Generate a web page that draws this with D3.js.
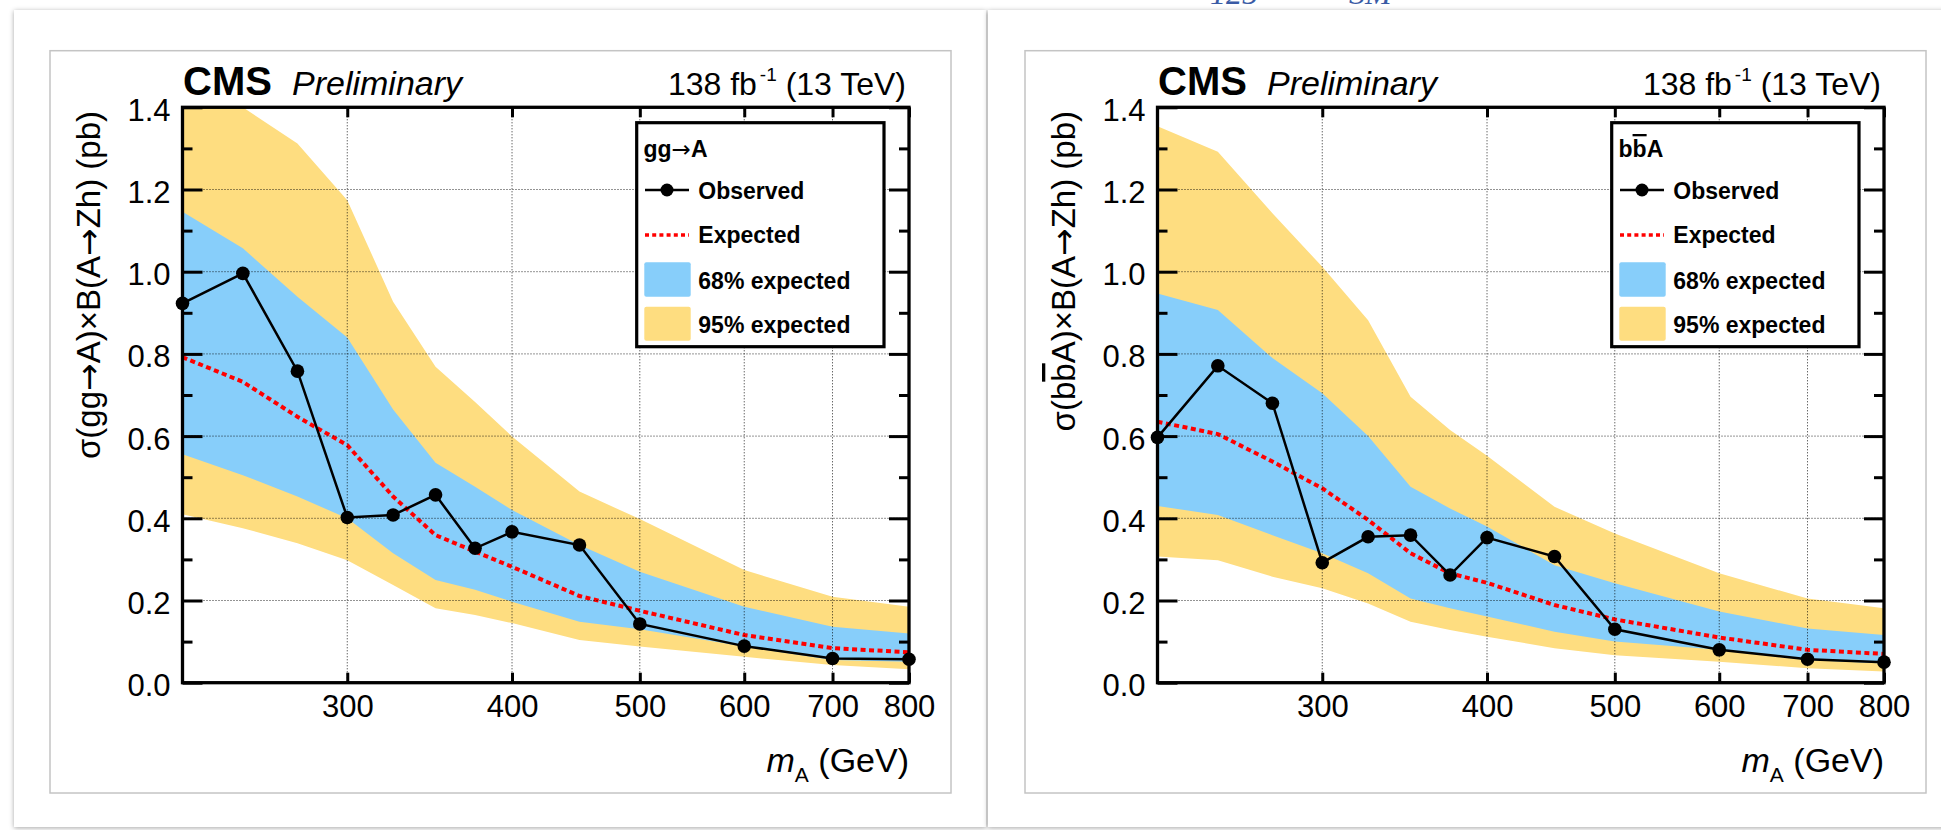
<!DOCTYPE html>
<html>
<head>
<meta charset="utf-8">
<script src="https://cdn.jsdelivr.net/npm/d3@7"></script>
<style>
  html, body { margin: 0; padding: 0; background: #fff; overflow: hidden; }
  svg { display: block; }
  text { font-family: "Liberation Sans", Arial, Helvetica, sans-serif; fill: #000; }
</style>
</head>
<body>
<svg id="chart" width="1941" height="830"></svg>
<script>
// ---- data: upper limits at 95% CL on sigma x B(A->Zh), in pb ----
const massPoints = [225, 250, 275, 300, 325, 350, 375, 400, 450, 500, 600, 700, 800];

// gluon-fusion production
const ggObserved = [0.923, 0.996, 0.758, 0.402, 0.408, 0.457, 0.327, 0.367, 0.335, 0.143, 0.089, 0.059, 0.057];
const ggExpected = [0.792, 0.732, 0.647, 0.578, 0.453, 0.359, 0.319, 0.282, 0.211, 0.175, 0.116, 0.084, 0.074];
const ggBand68Lo = [0.556, 0.505, 0.453, 0.400, 0.315, 0.250, 0.226, 0.197, 0.148, 0.130, 0.088, 0.055, 0.051];
const ggBand68Hi = [1.146, 1.057, 0.939, 0.840, 0.665, 0.535, 0.477, 0.420, 0.335, 0.270, 0.185, 0.136, 0.120];
const ggBand95Lo = [0.410, 0.376, 0.339, 0.298, 0.238, 0.181, 0.165, 0.145, 0.104, 0.088, 0.063, 0.043, 0.033];
const ggBand95Hi = [1.497, 1.400, 1.312, 1.174, 0.927, 0.769, 0.683, 0.599, 0.465, 0.398, 0.274, 0.209, 0.185];

// b-quark associated production
const bbObserved = [0.597, 0.771, 0.680, 0.292, 0.355, 0.359, 0.262, 0.353, 0.307, 0.130, 0.080, 0.057, 0.050];
const bbExpected = [0.635, 0.605, 0.538, 0.473, 0.396, 0.315, 0.266, 0.243, 0.189, 0.154, 0.110, 0.080, 0.070];
const bbBand68Lo = [0.430, 0.408, 0.359, 0.315, 0.266, 0.205, 0.181, 0.161, 0.124, 0.100, 0.080, 0.055, 0.047];
const bbBand68Hi = [0.947, 0.907, 0.790, 0.704, 0.600, 0.477, 0.424, 0.380, 0.286, 0.242, 0.173, 0.132, 0.116];
const bbBand95Lo = [0.307, 0.298, 0.258, 0.230, 0.193, 0.148, 0.128, 0.112, 0.084, 0.067, 0.051, 0.035, 0.027];
const bbBand95Hi = [1.354, 1.292, 1.142, 1.012, 0.882, 0.696, 0.615, 0.552, 0.428, 0.363, 0.266, 0.205, 0.181];

// axes
const xDomain = [225, 800];
const yDomain = [0, 1.4];
const xTickValues = [300, 400, 500, 600, 700, 800];
const xGridValues = [300, 400, 500, 600, 700];
const yTickValues = [0.0, 0.2, 0.4, 0.6, 0.8, 1.0, 1.2, 1.4];
const yMinorTickValues = [0.1, 0.3, 0.5, 0.7, 0.9, 1.1, 1.3];
const yGridValues = [0.2, 0.4, 0.6, 0.8, 1.0, 1.2];

const legendLabels = ["Observed", "Expected", "68% expected", "95% expected"];

// ---- drawing ----
const COLOR_68 = "#87cefa";
const COLOR_95 = "#fedd80";
const ARROW_FONT = "'DejaVu Sans', sans-serif";
const svg = d3.select("#chart");
const defs = svg.append("defs");

const shadow = defs.append("filter").attr("id", "cardShadow")
  .attr("x", "-5%").attr("y", "-5%").attr("width", "110%").attr("height", "110%");
shadow.append("feDropShadow").attr("dx", 0).attr("dy", 1).attr("stdDeviation", 2.5)
  .attr("flood-color", "#000").attr("flood-opacity", 0.35);

// slide cards behind the two plots
svg.append("rect").attr("x", 14).attr("y", 10).attr("width", 972).attr("height", 817)
  .attr("fill", "#fff").attr("filter", "url(#cardShadow)");
svg.append("rect").attr("x", 988).attr("y", 10).attr("width", 980).attr("height", 817)
  .attr("fill", "#fff").attr("filter", "url(#cardShadow)");

// fragment of the slide heading above the cards
svg.append("text").attr("x", 1210).attr("y", 4).attr("font-size", 32)
  .style("font-family", "'Liberation Serif', 'DejaVu Serif', serif").style("font-style", "italic")
  .style("fill", "#3a5ba5").text("125");
svg.append("text").attr("x", 1349).attr("y", 4).attr("font-size", 32)
  .style("font-family", "'Liberation Serif', 'DejaVu Serif', serif").style("font-style", "italic")
  .style("fill", "#3a5ba5").text("SM");

// text made of pieces: plain, overlined (b-bar) or arrow glyph
function addSegments(sel, segs) {
  segs.forEach(s => {
    const t = sel.append("tspan").text(s.t);
    if (s.over) t.style("text-decoration", "overline");
    if (s.arrow) t.style("font-family", ARROW_FONT).style("font-weight", "normal");
  });
}

function drawPanel(dx, id, procSegs, yTitleSegs, obs, exp, lo68, hi68, lo95, hi95) {
  const g = svg.append("g").attr("transform", `translate(${dx},0)`);

  // thin picture border
  g.append("rect").attr("x", 50).attr("y", 50.7).attr("width", 901).attr("height", 742.3)
    .attr("fill", "#fff").attr("stroke", "#c4c4c4").attr("stroke-width", 1.5);

  const left = 182.5, right = 909, top = 107.3, bottom = 682.7;
  const x = d3.scaleLog().domain(xDomain).range([left, right]);
  const y = d3.scaleLinear().domain(yDomain).range([bottom, top]);

  defs.append("clipPath").attr("id", "clip-" + id)
    .append("rect").attr("x", left).attr("y", top).attr("width", right - left).attr("height", bottom - top);
  const plot = g.append("g").attr("clip-path", `url(#clip-${id})`);

  const idx = d3.range(massPoints.length);
  const band = (lo, hi) => d3.area()
    .x(i => x(massPoints[i])).y0(i => y(lo[i])).y1(i => y(hi[i]));

  plot.append("path").datum(idx).attr("d", band(lo95, hi95)).attr("fill", COLOR_95);
  plot.append("path").datum(idx).attr("d", band(lo68, hi68)).attr("fill", COLOR_68);

  // dotted grid
  const grid = g.append("g").attr("stroke", "#000").attr("stroke-width", 1)
    .attr("stroke-dasharray", "1,2").attr("opacity", 0.85);
  grid.selectAll("line.gx").data(xGridValues).join("line")
    .attr("x1", d => x(d)).attr("x2", d => x(d)).attr("y1", top).attr("y2", bottom);
  grid.selectAll("line.gy").data(yGridValues).join("line")
    .attr("x1", left).attr("x2", right).attr("y1", d => y(d)).attr("y2", d => y(d));

  // expected limit
  plot.append("path").datum(idx)
    .attr("d", d3.line().x(i => x(massPoints[i])).y(i => y(exp[i])))
    .attr("fill", "none").attr("stroke", "#ff0000").attr("stroke-width", 4)
    .attr("stroke-dasharray", "5,3.5");

  // observed limit
  g.append("path").datum(idx)
    .attr("d", d3.line().x(i => x(massPoints[i])).y(i => y(obs[i])))
    .attr("fill", "none").attr("stroke", "#000").attr("stroke-width", 2.5);
  g.selectAll("circle.obs").data(idx).join("circle")
    .attr("cx", i => x(massPoints[i])).attr("cy", i => y(obs[i])).attr("r", 6.8).attr("fill", "#000");

  // axes: ROOT-style inward ticks on all four sides
  const styleAxis = sel => {
    sel.select(".domain").remove();
    sel.selectAll(".tick line").attr("stroke", "#000").attr("stroke-width", 3);
    sel.selectAll("text").attr("font-size", 31).style("font-family", "'Liberation Sans', Arial, sans-serif")
      .attr("fill", "#000");
    sel.attr("font-family", null).attr("font-size", null);
  };

  g.append("g").attr("transform", `translate(${left},0)`)
    .call(d3.axisLeft(y).tickValues(yTickValues).tickFormat(d3.format(".1f")).tickSizeInner(-20).tickSizeOuter(0).tickPadding(12))
    .call(styleAxis).call(s => s.selectAll("text").attr("dy", "0.42em"));
  g.append("g").attr("transform", `translate(${left},0)`)
    .call(d3.axisLeft(y).tickValues(yMinorTickValues).tickFormat("").tickSizeInner(-10).tickSizeOuter(0))
    .call(styleAxis);
  g.append("g").attr("transform", `translate(${right},0)`)
    .call(d3.axisRight(y).tickValues(yTickValues).tickFormat("").tickSizeInner(-20).tickSizeOuter(0))
    .call(styleAxis);
  g.append("g").attr("transform", `translate(${right},0)`)
    .call(d3.axisRight(y).tickValues(yMinorTickValues).tickFormat("").tickSizeInner(-10).tickSizeOuter(0))
    .call(styleAxis);
  g.append("g").attr("transform", `translate(0,${bottom})`)
    .call(d3.axisBottom(x).tickValues(xTickValues).tickFormat(d3.format("d")).tickSizeInner(-10).tickSizeOuter(0).tickPadding(12))
    .call(styleAxis);
  g.append("g").attr("transform", `translate(0,${top})`)
    .call(d3.axisTop(x).tickValues(xTickValues).tickFormat("").tickSizeInner(-10).tickSizeOuter(0))
    .call(styleAxis);

  // frame
  g.append("rect").attr("x", left).attr("y", top).attr("width", right - left).attr("height", bottom - top)
    .attr("fill", "none").attr("stroke", "#000").attr("stroke-width", 3.3);

  // titles
  g.append("text").attr("x", 183).attr("y", 95).attr("font-size", 40).attr("font-weight", "bold").text("CMS");
  g.append("text").attr("x", 292).attr("y", 95).attr("font-size", 34).attr("font-style", "italic").text("Preliminary");
  const lumi = g.append("text").attr("x", 906).attr("y", 95).attr("font-size", 32).attr("text-anchor", "end");
  lumi.append("tspan").text("138 fb");
  lumi.append("tspan").attr("font-size", 19).attr("dy", -14).attr("dx", 3).text("-1");
  lumi.append("tspan").attr("dy", 14).text(" (13 TeV)");

  const xt = g.append("text").attr("x", 909).attr("y", 772).attr("font-size", 34).attr("text-anchor", "end");
  xt.append("tspan").attr("font-style", "italic").text("m");
  xt.append("tspan").attr("font-size", 21).attr("dy", 10).text("A");
  xt.append("tspan").attr("dy", -10).text(" (GeV)");

  const yt = g.append("text").attr("transform", "translate(100,111) rotate(-90)")
    .attr("font-size", 33).attr("text-anchor", "end");
  addSegments(yt, yTitleSegs);

  // legend
  const lg = g.append("g");
  lg.append("rect").attr("x", 636.7).attr("y", 122.7).attr("width", 247.3).attr("height", 224)
    .attr("fill", "#fff").attr("stroke", "#000").attr("stroke-width", 3.2);
  const hdr = lg.append("text").attr("x", 643.5).attr("y", 157).attr("font-size", 23).attr("font-weight", "bold");
  addSegments(hdr, procSegs);

  lg.append("line").attr("x1", 645).attr("x2", 689).attr("y1", 190).attr("y2", 190)
    .attr("stroke", "#000").attr("stroke-width", 2.5);
  lg.append("circle").attr("cx", 667).attr("cy", 190).attr("r", 6.5).attr("fill", "#000");
  lg.append("line").attr("x1", 645).attr("x2", 689).attr("y1", 235).attr("y2", 235)
    .attr("stroke", "#ff0000").attr("stroke-width", 3.5).attr("stroke-dasharray", "4,3.2");
  lg.append("rect").attr("x", 644.3).attr("y", 262.3).attr("width", 46.4).attr("height", 34.4).attr("rx", 2)
    .attr("fill", COLOR_68);
  lg.append("rect").attr("x", 644.3).attr("y", 306.7).attr("width", 46.4).attr("height", 34).attr("rx", 2)
    .attr("fill", COLOR_95);
  lg.selectAll("text.entry").data(legendLabels).join("text").attr("class", "entry")
    .attr("x", 698.3).attr("y", (d, i) => [199.3, 243.3, 289.3, 333.3][i])
    .attr("font-size", 23).attr("font-weight", "bold").text(d => d);
}

drawPanel(0, "gg",
  [{t: "gg"}, {t: "→", arrow: true}, {t: "A"}],
  [{t: "σ(gg"}, {t: "→", arrow: true}, {t: "A)×B(A"}, {t: "→", arrow: true}, {t: "Zh)  (pb)"}],
  ggObserved, ggExpected, ggBand68Lo, ggBand68Hi, ggBand95Lo, ggBand95Hi);

drawPanel(975, "bb",
  [{t: "b"}, {t: "b", over: true}, {t: "A"}],
  [{t: "σ(b"}, {t: "b", over: true}, {t: "A)×B(A"}, {t: "→", arrow: true}, {t: "Zh)  (pb)"}],
  bbObserved, bbExpected, bbBand68Lo, bbBand68Hi, bbBand95Lo, bbBand95Hi);
</script>
</body>
</html>
